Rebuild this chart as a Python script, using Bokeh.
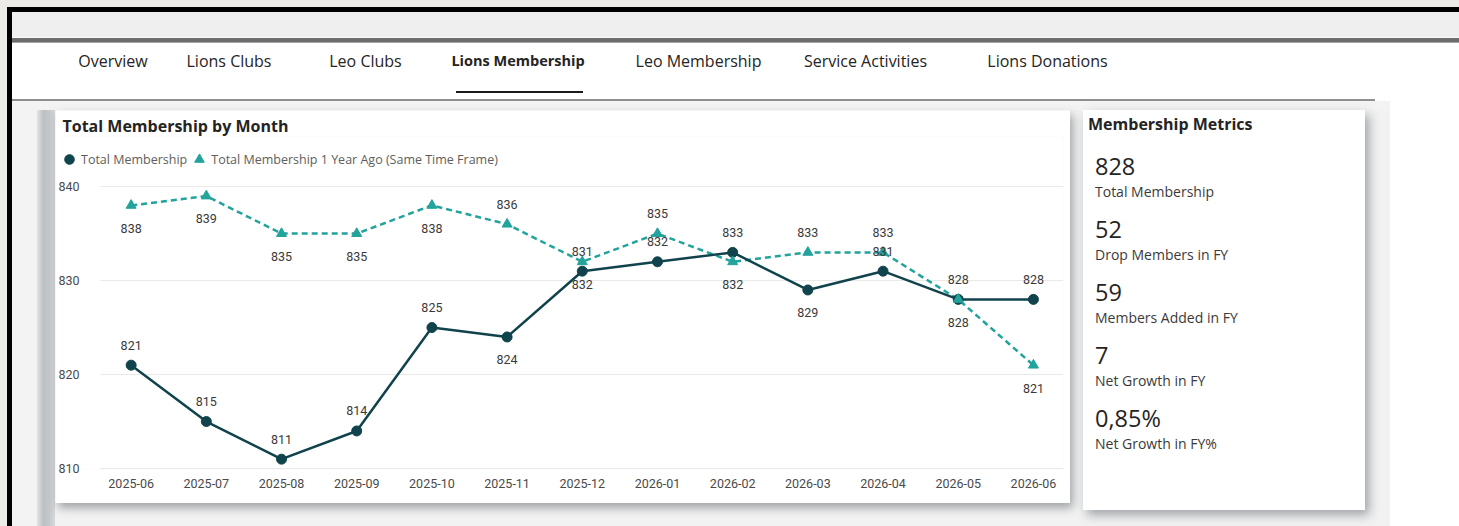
from bokeh.plotting import figure
from bokeh.models import ColumnDataSource, FixedTicker, Range1d, Legend, LegendItem, Div
from bokeh.layouts import row, column
from bokeh.embed import file_html
from bokeh.resources import INLINE
from bokeh.core.properties import value

# ---------------- data ----------------
months = ["2025-06", "2025-07", "2025-08", "2025-09", "2025-10", "2025-11", "2025-12",
          "2026-01", "2026-02", "2026-03", "2026-04", "2026-05", "2026-06"]
total_membership = [821, 815, 811, 814, 825, 824, 831, 832, 833, 829, 831, 828, 828]
membership_1y_ago = [838, 839, 835, 835, 838, 836, 832, 835, 832, 833, 833, 828, 821]
total_label_side = ["above", "above", "above", "above", "above", "below", "above",
                    "above", "above", "below", "above", "above", "above"]
ago_label_side = ["below", "below", "below", "below", "below", "above", "below",
                  "above", "below", "above", "above", "below", "below"]
y_ticks = [810, 820, 830, 840]

tabs = ["Overview", "Lions Clubs", "Leo Clubs", "Lions Membership", "Leo Membership",
        "Service Activities", "Lions Donations"]
active_tab = "Lions Membership"

metric_values = ["828", "52", "59", "7", "0,85%"]
metric_names = ["Total Membership", "Drop Members in FY", "Members Added in FY",
                "Net Growth in FY", "Net Growth in FY%"]

# ---------------- style ----------------
DARK = "#11434c"
TEAL = "#22a39b"
UI_FONT = "Open Sans"
LBL_FONT = "Roboto"
MARGIN_BG = "#ecebe7"
tab_centers = [113, 229, 365.5, 518, 698.5, 865.5, 1047.5]  # page px

def off(side):
    return -20 if side == "above" else 23

x_idx = list(range(len(months)))
src = ColumnDataSource(dict(
    x=x_idx,
    total=total_membership,
    ago=membership_1y_ago,
    total_text=[str(v) for v in total_membership],
    ago_text=[str(v) for v in membership_1y_ago],
    total_off=[off(s) for s in total_label_side],
    ago_off=[off(s) for s in ago_label_side],
))

# ---------------- chart card ----------------
X_START, X_END, GRID_START = -0.913, 12.4, -0.41
p = figure(width=1015, height=393, x_range=Range1d(X_START, X_END), y_range=Range1d(809.9, 845.33),
           output_backend="svg", toolbar_location=None,
           min_border_left=2, min_border_right=7, min_border_bottom=34, min_border_top=26,
           background_fill_color="white", border_fill_color="white", outline_line_color=None,
           styles={"box-shadow": "3px 5px 9px rgba(60,70,80,0.45)"})

p.title.text = "Total Membership by Month"
p.title.align = "left"
p.title.offset = 0
p.title.standoff = 0
p.title.text_font = UI_FONT
p.title.text_font_style = "bold"
p.title.text_font_size = "16px"
p.title.text_color = "#252423"

p.line("x", "ago", source=src, color=TEAL, line_width=2.5, line_dash="6 4")
p.line("x", "total", source=src, color=DARK, line_width=2.5)
tot_r = p.scatter("x", "total", source=src, marker="circle", size=10, color=DARK)
ago_r = p.scatter("x", "ago", source=src, marker="triangle", size=10, color=TEAL)

common = dict(text_align="center", text_baseline="middle", text_font=value(LBL_FONT),
              text_font_size="12.5px", text_color="#3a3a3a")
p.text("x", "total", text="total_text", y_offset="total_off", source=src, **common)
p.text("x", "ago", text="ago_text", y_offset="ago_off", source=src, **common)

legend = Legend(items=[LegendItem(label="Total Membership", renderers=[tot_r]),
                       LegendItem(label="Total Membership 1 Year Ago (Same Time Frame)", renderers=[ago_r])],
                orientation="horizontal", location=(-5, 298), padding=0, margin=0, spacing=-8,
                label_standoff=0, glyph_width=24, glyph_height=24, label_height=16,
                label_text_font_size="12.5px", label_text_font=UI_FONT, label_text_color="#605e5c",
                border_line_color=None, background_fill_alpha=0)
p.add_layout(legend)

p.xaxis.ticker = FixedTicker(ticks=x_idx)
p.xaxis.major_label_overrides = {i: m for i, m in enumerate(months)}
p.yaxis.ticker = FixedTicker(ticks=y_ticks)
for ax in [p.xaxis[0], p.yaxis[0]]:
    ax.axis_line_color = None
    ax.major_tick_line_color = None
    ax.minor_tick_line_color = None
    ax.major_label_text_font = LBL_FONT
    ax.major_label_text_font_size = "12.5px"
    ax.major_label_text_color = "#4a4a4a"
p.xaxis.major_label_standoff = 3
p.yaxis.major_label_standoff = -23
p.xgrid.visible = False
p.ygrid.grid_line_color = "#e9e9e9"
p.ygrid.grid_line_width = 1
p.ygrid.cross_bounds = (GRID_START, X_END)

# ---------------- helpers ----------------
def box(l, t, w, h, bg):
    return f'<div style="position:absolute;left:{l}px;top:{t}px;width:{w}px;height:{h}px;background:{bg}"></div>'

def panel(w, h, parts, bg="transparent"):
    return f'<div style="position:relative;width:{w}px;height:{h}px;background:{bg};overflow:hidden">{"".join(parts)}</div>'

# ---------------- nav bar (page y 0..110) ----------------
nav = [box(0, 0, 1459, 7, MARGIN_BG), box(0, 0, 7, 110, MARGIN_BG),
       box(7, 7, 1452, 5, "#000"), box(7, 7, 5, 103, "#000"),
       box(12, 12, 1447, 25, "#efefef"), box(12, 37, 1447, 1, "#f8f8f8"),
       box(12, 38, 1447, 4, "#6d6d6d"), box(12, 42, 1447, 1, "#a5a5a5"),
       box(12, 99, 1363, 2, "#8f8f8f"), box(12, 101, 1378, 9, "#f3f3f3"),
       box(456, 91, 127, 2, "#1a1a1a")]
for name, cx in zip(tabs, tab_centers):
    w = 700 if name == active_tab else 400
    nav.append(f'<div style="position:absolute;left:{cx - 100}px;top:{61 - 11}px;width:200px;'
               f'height:22px;line-height:22px;text-align:center;font-family:\'{UI_FONT}\';'
               f'font-size:{14.5 if w == 700 else 16}px;font-weight:{w};color:#252423;white-space:nowrap">{name}</div>')
nav_div = Div(text=panel(1459, 110, nav, "white"), width=1459, height=110, margin=0)

# ---------------- left strip (page x 0..55) ----------------
left_div = Div(text=panel(55, 416, [box(0, 0, 7, 416, MARGIN_BG), box(7, 0, 5, 416, "#000"),
                                    box(12, 0, 25, 416, "#f3f3f3"),
                                    box(37, 0, 18, 416,
                                        "linear-gradient(to right,#e4e4e4,#bcc0c4 35%,#c6c9cc 70%,#d8d9da)")]),
               width=55, height=416, margin=0)

gap_div = Div(text="", width=13, height=416, margin=0)

# ---------------- metrics card ----------------
m = [f'<div style="position:absolute;left:5px;top:3px;height:22px;line-height:22px;font-family:\'{UI_FONT}\';'
     f'font-size:16px;font-weight:700;color:#252423;white-space:nowrap">Membership Metrics</div>']
for i, (v, n) in enumerate(zip(metric_values, metric_names)):
    vc = 56 + 63 * i
    lc = 82 + 63 * i
    m.append(f'<div style="position:absolute;left:12px;top:{vc - 15}px;height:30px;line-height:30px;'
             f'font-family:\'{UI_FONT}\';font-size:23.5px;color:#252423;white-space:nowrap">{v}</div>')
    m.append(f'<div style="position:absolute;left:12px;top:{lc - 10}px;height:20px;line-height:20px;'
             f'font-family:\'{UI_FONT}\';font-size:14px;color:#3b3a39;white-space:nowrap">{n}</div>')
metrics_div = Div(text=panel(282, 400, m), width=282, height=400, margin=0,
                  styles={"background": "white", "box-shadow": "4px 5px 10px rgba(60,70,80,0.45)"})

right_div = Div(text=panel(94, 416, [box(25, 0, 69, 416, "white")]), width=94, height=416, margin=0)

body = row(left_div, p, gap_div, metrics_div, right_div, styles={"background": "#f2f2f2"})
page = column(nav_div, body)

open("out.html", "w").write(file_html(page, INLINE))
